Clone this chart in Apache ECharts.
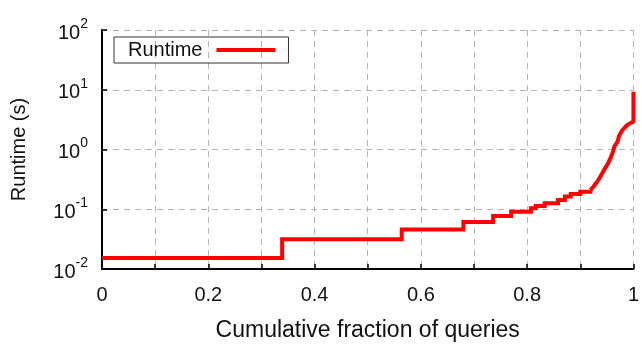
<!DOCTYPE html>
<html>
<head>
<meta charset="utf-8">
<script src="https://cdn.jsdelivr.net/npm/echarts@6/dist/echarts.min.js"></script>
<style>
  html, body { margin: 0; padding: 0; background: #fff; }
  #chart { width: 642px; height: 347px; }
</style>
</head>
<body>
<div id="chart"></div>
<script>
// fraction of queries where each runtime level starts (step part)
const stepFraction = [0, 0.339, 0.564, 0.680, 0.736, 0.770, 0.807, 0.816, 0.833, 0.858, 0.871, 0.882, 0.900, 0.919];
const stepRuntime = [0.0153, 0.0314, 0.046, 0.061, 0.077, 0.091, 0.104, 0.113, 0.126, 0.143, 0.163, 0.180, 0.197, 0.21];
// tail of the distribution, where the tiny steps blend into a curve
const tailFraction = [0.919, 0.925, 0.933, 0.940, 0.945, 0.952, 0.958, 0.962, 0.964, 0.970, 0.973, 0.979, 0.985, 0.989, 0.996, 1.0, 1.0];
const tailRuntime = [0.21, 0.24, 0.30, 0.38, 0.46, 0.58, 0.76, 0.95, 1.12, 1.35, 1.70, 2.10, 2.40, 2.59, 2.82, 2.9, 9.3];
const xTickLabels = ["0", "0.2", "0.4", "0.6", "0.8", "1"];
const yExponents = ["-2", "-1", "0", "1", "2"];

const font = "'Liberation Sans', Arial, Helvetica, sans-serif";
const red = "#ff0000";
const gridLine = { color: "#b4b4b4", width: 1, type: [6, 5] };

const chart = echarts.init(document.getElementById("chart"), null, { renderer: "canvas" });

chart.setOption({
  animation: false,
  backgroundColor: "#fff",
  textStyle: { fontFamily: font },
  grid: { left: 102, right: 6, top: 30, bottom: 78 },
  legend: {
    left: 114,
    top: 37,
    padding: [3, 13, 3, 14],
    borderColor: "#333",
    borderWidth: 1,
    borderRadius: 0,
    align: "right",
    itemWidth: 59,
    itemHeight: 4,
    textStyle: { fontSize: 20, color: "#111", fontFamily: font, padding: [0, 9, 0, 0] },
    data: [{ name: "Runtime", icon: "rect" }]
  },
  xAxis: {
    type: "value",
    min: 0,
    max: 1,
    interval: 0.1,
    axisLine: { lineStyle: { color: "#000", width: 2 } },
    axisTick: { inside: true, length: 5, lineStyle: { color: "#000", width: 1.5 } },
    splitLine: { show: true, lineStyle: gridLine },
    axisLabel: {
      margin: 16,
      fontSize: 20,
      color: "#111",
      fontFamily: font,
      formatter: (v) => {
        const k = Math.round(v * 10);
        return k % 2 === 0 ? xTickLabels[k / 2] : "";
      }
    },
    name: "Cumulative fraction of queries",
    nameLocation: "middle",
    nameGap: 50,
    nameTextStyle: { fontSize: 23, color: "#111", fontFamily: font }
  },
  yAxis: {
    type: "log",
    logBase: 10,
    min: 0.01,
    max: 100,
    axisLine: { lineStyle: { color: "#000", width: 2 } },
    axisTick: { inside: true, length: 5, lineStyle: { color: "#000", width: 1.5 } },
    minorTick: { show: false },
    splitLine: { show: true, lineStyle: gridLine },
    axisLabel: {
      margin: 14,
      color: "#111",
      fontFamily: font,
      formatter: (v) => {
        const e = Math.round(Math.log10(v));
        return "{b|10}{s|" + yExponents[e + 2] + "}";
      },
      rich: {
        b: { fontSize: 20, fontFamily: font, color: "#111", padding: [6, 0, 0, 0] },
        s: { fontSize: 14, fontFamily: font, color: "#111", verticalAlign: "top", padding: [0, 0, 8, 0] }
      }
    },
    name: "Runtime (s)",
    nameLocation: "middle",
    nameGap: 73,
    nameRotate: 90,
    nameTextStyle: { fontSize: 20, color: "#111", fontFamily: font }
  },
  series: [{
    name: "Runtime",
    type: "line",
    step: "end",
    symbol: "none",
    itemStyle: { color: red },
    lineStyle: { color: red, width: 4, join: "miter" },
    data: stepFraction.map((f, i) => [f, stepRuntime[i]])
  }, {
    name: "Runtime",
    type: "line",
    symbol: "none",
    itemStyle: { color: red },
    lineStyle: { color: red, width: 4 },
    data: tailFraction.map((f, i) => [f, tailRuntime[i]])
  }]
});
</script>
</body>
</html>
